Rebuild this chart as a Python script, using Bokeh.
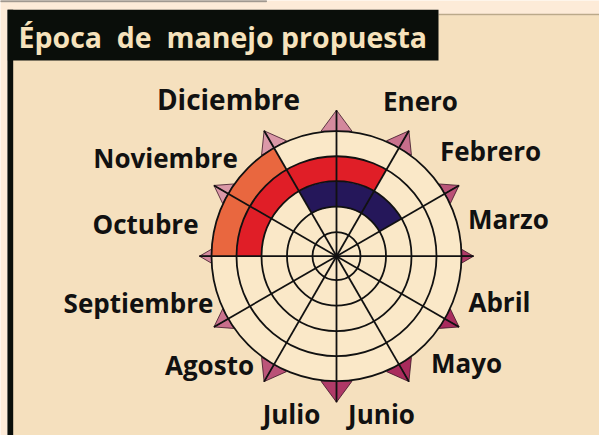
import numpy as np
from bokeh.plotting import figure
from bokeh.models import Range1d, ColumnDataSource
from bokeh.embed import file_html
from bokeh.resources import INLINE
from bokeh.core.properties import value

# ---------------- data ----------------
titulo = "Época\u00a0 de\u00a0 manejo propuesta"
meses = ["Enero", "Febrero", "Marzo", "Abril", "Mayo", "Junio",
         "Julio", "Agosto", "Septiembre", "Octubre", "Noviembre", "Diciembre"]
# 1 = marked month in each ring (outer, middle, inner)
anillo_exterior = [0, 0, 0, 0, 0, 0, 0, 0, 0, 1, 1, 0]
anillo_medio    = [1, 0, 0, 0, 0, 0, 0, 0, 0, 1, 1, 1]
anillo_interior = [1, 1, 0, 0, 0, 0, 0, 0, 0, 0, 0, 1]

# ---------------- layout / style ----------------
W, H = 599, 435
CX, CY = 336.0, H - 255.7
radios = [24, 49.5, 75, 100, 125]
R = radios[-1]
ring_bounds = {"ext": (100, 125), "med": (75, 100), "int": (49.5, 75)}
ring_colors = {"ext": "#E9673F", "med": "#E01E27", "int": "#25175A"}
FONT = "Open Sans"

# label anchors (screen x, screen y of text middle)
lab_x = [420, 490, 508, 499, 466, 381, 291, 209, 138, 145, 165, 228]
lab_y = [100, 150, 218, 301, 362, 413, 413, 364, 302, 223, 157, 98]
lab_size = ["26px"] * 11 + ["28px"]

p = figure(width=W, height=H, x_range=Range1d(0, W), y_range=Range1d(0, H),
           output_backend="svg", toolbar_location=None, min_border=0,
           background_fill_color="#FDEBD8", border_fill_color="#FDEBD8")
p.axis.visible = False
p.grid.visible = False
p.outline_line_color = None

# frame / panel
p.quad(left=[0], right=[266], top=[H], bottom=[H - 1.2], color="#9C948C")
p.quad(left=[12.5], right=[W], top=[H - 14.7], bottom=[0], color="#F5E0BE", line_color=None)
p.quad(left=[438], right=[W], top=[H - 13.3], bottom=[H - 14.7], color="#BBA98A", line_color=None)
p.quad(left=[6.5], right=[7.5], top=[H - 9.3], bottom=[0], color="#8C8A80", line_color=None)
p.quad(left=[7.3], right=[12.7], top=[H - 9.3], bottom=[0], color="#0A0E0A", line_color=None)
p.quad(left=[7.3], right=[438], top=[H - 9.3], bottom=[H - 60], color="#0A0E0A", line_color=None)
p.text(x=[18], y=[H - 36], text=[titulo], text_color="#F6E2BC",
       text_font=value(FONT), text_font_style="bold", text_font_size="28.5px",
       text_baseline="middle", text_align="left")

# triangles (pyramids) at the 12 spoke ends
light = np.array([0xDC, 0x9A, 0xA9])
dark = np.array([0xA8, 0x2A, 0x5C])
ul = np.array([-1.0, 1.0]) / np.sqrt(2)
txs, tys, tcol = [], [], []
for k in range(12):
    phi = np.deg2rad(30 * k)              # compass angle, clockwise from north
    u = np.array([np.sin(phi), np.cos(phi)])
    n = np.array([np.cos(phi), -np.sin(phi)])
    c = abs(np.cos(phi))
    ra = 137 + 9 * c
    w = 7 + 8.5 * c
    apex = np.array([CX, CY]) + ra * u
    bm = np.array([CX, CY]) + R * u
    for s in (-1, 1):
        corner = bm + s * w * n
        tri = np.array([apex, bm, corner])
        cen = tri.mean(axis=0) - np.array([CX, CY])
        cen = cen / np.linalg.norm(cen)
        t = (1 - float(cen @ ul)) / 2
        col = light + (dark - light) * t
        txs.append(list(tri[:, 0]))
        tys.append(list(tri[:, 1]))
        tcol.append("#%02x%02x%02x" % tuple(int(v) for v in col))
p.patches(xs=txs, ys=tys, fill_color=tcol, line_color="#3A1426", line_width=0.8)

# disc fill
p.circle(x=[CX], y=[CY], radius=[R], fill_color="#FAE8C8", line_color=None)

# coloured cells
for key, serie in (("ext", anillo_exterior), ("med", anillo_medio), ("int", anillo_interior)):
    idx = [i for i, v in enumerate(serie) if v]
    start = [np.deg2rad(90 - 30 * (i + 1)) for i in idx]
    end = [np.deg2rad(90 - 30 * i) for i in idx]
    src = ColumnDataSource(dict(x=[CX] * len(idx), y=[CY] * len(idx), s=start, e=end))
    p.annular_wedge(x="x", y="y", inner_radius=ring_bounds[key][0], outer_radius=ring_bounds[key][1],
                    start_angle="s", end_angle="e", source=src,
                    fill_color=ring_colors[key], line_color=None)

# rings
p.circle(x=[CX] * len(radios), y=[CY] * len(radios), radius=radios,
         fill_color=None, line_color="#111111", line_width=1.8)

# spokes to the pyramid tips
sx, sy = [], []
for k in range(12):
    phi = np.deg2rad(30 * k)
    c = abs(np.cos(phi))
    ra = 137 + 9 * c
    sx.append([CX, CX + ra * np.sin(phi)])
    sy.append([CY, CY + ra * np.cos(phi)])
p.multi_line(xs=sx, ys=sy, line_color="#111111", line_width=1.8)

# month labels
p.text(x=lab_x, y=[H - v for v in lab_y], text=meses, text_color="#111111",
       text_font=value(FONT), text_font_style="bold", text_font_size=lab_size,
       text_align="center", text_baseline="middle")

open("out.html", "w").write(file_html(p, INLINE))
